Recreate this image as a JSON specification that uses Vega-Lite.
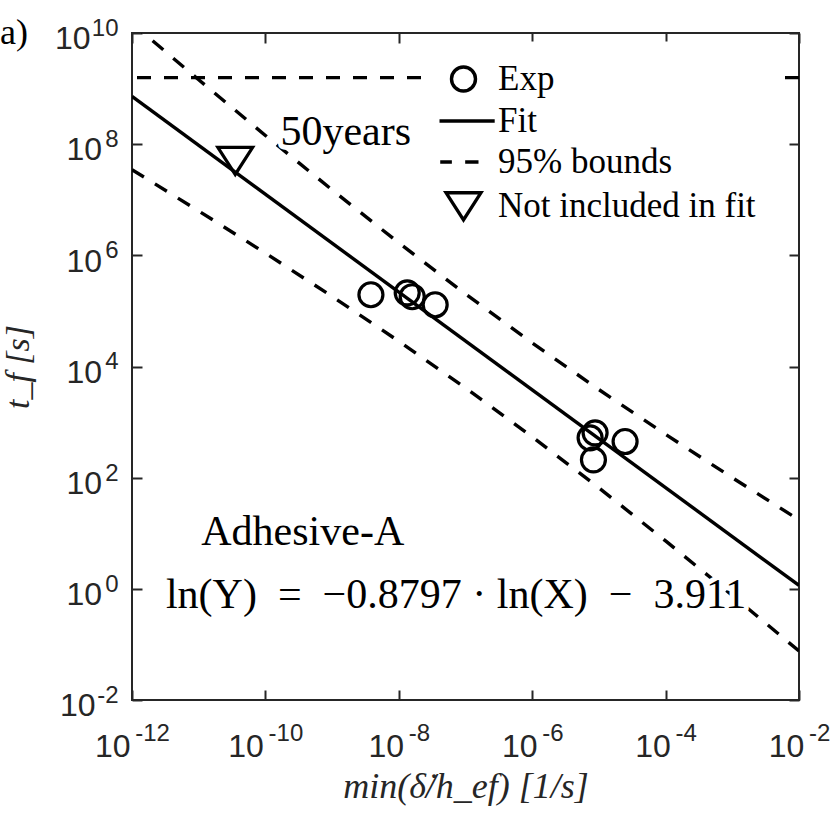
{
  "$schema": "https://vega.github.io/schema/vega-lite/v6.json",
  "width": 667,
  "height": 667,
  "autosize": {"type": "none"},
  "padding": {"left": 132, "top": 33, "right": 31, "bottom": 114},
  "background": "white",
  "config": {"view": {"stroke": "#262626", "strokeWidth": 2}},
  "title": {
    "text": "a)",
    "anchor": "start",
    "frame": "group",
    "orient": "top",
    "offset": 0,
    "dx": -132,
    "dy": 64,
    "baseline": "alphabetic",
    "font": "Liberation Serif",
    "fontSize": 36,
    "fontWeight": "normal",
    "color": "black"
  },
  "layer": [
    {
      "data": {"values": [{"time": 1576800000}]},
      "mark": {"type": "rule", "strokeDash": [14, 13], "strokeWidth": 3.4, "color": "black"},
      "encoding": {
        "y": {"field": "time", "type": "quantitative", "scale": {"type": "log", "domain": [0.01, 1e10]}, "axis": null}
      }
    },
    {
      "data": {"values": [
        {"bound": "upper", "rate": 1e-12, "time": 1.493e10},
        {"bound": "upper", "rate": 1e-11, "time": 1.439e9},
        {"bound": "upper", "rate": 1e-10, "time": 1.435e8},
        {"bound": "upper", "rate": 1e-9, "time": 1.503e7},
        {"bound": "upper", "rate": 1e-8, "time": 1.675e6},
        {"bound": "upper", "rate": 1e-7, "time": 2.018e5},
        {"bound": "upper", "rate": 1e-6, "time": 2.661e4},
        {"bound": "upper", "rate": 1e-5, "time": 3846},
        {"bound": "upper", "rate": 1e-4, "time": 599.8},
        {"bound": "upper", "rate": 1e-3, "time": 99.8},
        {"bound": "upper", "rate": 1e-2, "time": 17.42},
        {"bound": "lower", "rate": 1e-12, "time": 3.483e7},
        {"bound": "lower", "rate": 1e-11, "time": 6.281e6},
        {"bound": "lower", "rate": 1e-10, "time": 1.096e6},
        {"bound": "lower", "rate": 1e-9, "time": 1.824e5},
        {"bound": "lower", "rate": 1e-8, "time": 2.851e4},
        {"bound": "lower", "rate": 1e-7, "time": 4111},
        {"bound": "lower", "rate": 1e-6, "time": 542.0},
        {"bound": "lower", "rate": 1e-5, "time": 65.5},
        {"bound": "lower", "rate": 1e-4, "time": 7.28},
        {"bound": "lower", "rate": 1e-3, "time": 0.762},
        {"bound": "lower", "rate": 1e-2, "time": 0.076}
      ]},
      "mark": {"type": "line", "strokeDash": [14, 13], "strokeWidth": 3.4, "color": "black", "clip": true},
      "encoding": {
        "x": {
          "field": "rate", "type": "quantitative",
          "scale": {"type": "log", "domain": [1e-12, 0.01]},
          "axis": {"orient": "top", "values": [1e-12, 1e-10, 1e-8, 1e-6, 1e-4, 1e-2], "labels": false, "domain": false, "grid": false, "title": null, "tickSize": -10, "tickWidth": 2, "tickColor": "#262626"}
        },
        "y": {
          "field": "time", "type": "quantitative",
          "scale": {"type": "log", "domain": [0.01, 1e10]},
          "axis": {"orient": "right", "values": [0.01, 1, 100, 1e4, 1e6, 1e8, 1e10], "labels": false, "domain": false, "grid": false, "title": null, "tickSize": -10, "tickWidth": 2, "tickColor": "#262626"}
        },
        "detail": {"field": "bound"}
      }
    },
    {
      "data": {"values": [
        {"rate": 1e-12, "time": 7.206e8},
        {"rate": 1e-2, "time": 1.150}
      ]},
      "mark": {"type": "line", "strokeWidth": 3.4, "color": "black", "clip": true},
      "encoding": {
        "x": {
          "field": "rate", "type": "quantitative",
          "scale": {"type": "log", "domain": [1e-12, 0.01]},
          "axis": {
            "orient": "bottom", "values": [1e-12, 1e-10, 1e-8, 1e-6, 1e-4, 1e-2],
            "labelExpr": "toString(round(log(datum.value) / LN10))",
            "ticks": false, "domain": false, "grid": false, "title": null,
            "labelFont": "Liberation Sans", "labelFontSize": 24, "labelColor": "#262626",
            "labelAlign": "left", "labelBaseline": "alphabetic", "labelPadding": 40,
            "labelOffset": {"condition": {"test": "datum.value < 1e-9", "value": 2.7}, "value": 9.5},
            "labelFlush": false, "labelOverlap": false
          }
        },
        "y": {
          "field": "time", "type": "quantitative",
          "scale": {"type": "log", "domain": [0.01, 1e10]},
          "axis": {
            "orient": "left", "values": [0.01, 1, 100, 1e4, 1e6, 1e8, 1e10],
            "labelExpr": "toString(round(log(datum.value) / LN10))",
            "ticks": false, "domain": false, "grid": false, "title": null,
            "labelFont": "Liberation Sans", "labelFontSize": 24, "labelColor": "#262626",
            "labelAlign": "right", "labelBaseline": "alphabetic", "labelPadding": 14,
            "labelOffset": 2.4,
            "labelFlush": false, "labelOverlap": false
          }
        }
      }
    },
    {
      "data": {"values": [
        {"rate": 3.82e-9, "time": 1.954e5, "series": "Exp"},
        {"rate": 1.337e-8, "time": 2.12e5, "series": "Exp"},
        {"rate": 1.589e-8, "time": 1.80e5, "series": "Exp"},
        {"rate": 3.51e-8, "time": 1.29e5, "series": "Exp"},
        {"rate": 8.77e-6, "time": 640, "series": "Exp"},
        {"rate": 7.38e-6, "time": 520, "series": "Exp"},
        {"rate": 8.28e-6, "time": 209, "series": "Exp"},
        {"rate": 2.47e-5, "time": 447, "series": "Exp"},
        {"rate": 3.53e-11, "time": 5.05e7, "series": "Not included in fit"}
      ]},
      "mark": {"type": "point", "filled": false, "size": 576, "strokeWidth": 3.2, "color": "black", "opacity": 1},
      "encoding": {
        "x": {
          "field": "rate", "type": "quantitative",
          "scale": {"type": "log", "domain": [1e-12, 0.01]},
          "axis": {
            "orient": "bottom", "values": [1e-12, 1e-10, 1e-8, 1e-6, 1e-4, 1e-2],
            "labelExpr": "'10'",
            "domain": false, "grid": false,
            "tickSize": -10, "tickWidth": 2, "tickColor": "#262626",
            "labelFont": "Liberation Sans", "labelFontSize": 32, "labelColor": "#262626",
            "labelAlign": "right", "labelBaseline": "alphabetic", "labelPadding": 66,
            "labelOffset": {"condition": {"test": "datum.value < 1e-9", "value": -2}, "value": 4.8},
            "labelFlush": false, "labelOverlap": false,
            "title": "min(δ̇/h_ef) [1/s]",
            "titleFont": "Liberation Serif", "titleFontSize": 36, "titleFontStyle": "italic", "titleFontWeight": "normal",
            "titleColor": "#262626", "titleX": 333.5, "titleY": 97, "titleAlign": "center", "titleBaseline": "alphabetic"
          }
        },
        "y": {
          "field": "time", "type": "quantitative",
          "scale": {"type": "log", "domain": [0.01, 1e10]},
          "axis": {
            "orient": "left", "values": [0.01, 1, 100, 1e4, 1e6, 1e8, 1e10],
            "labelExpr": "'10'",
            "domain": false, "grid": false,
            "tickSize": -10, "tickWidth": 2, "tickColor": "#262626",
            "labelFont": "Liberation Sans", "labelFontSize": 32, "labelColor": "#262626",
            "labelAlign": "right", "labelBaseline": "alphabetic", "labelOffset": 15.7,
            "labelPadding": {"condition": [{"test": "datum.value > 1e9", "value": 52}, {"test": "datum.value < 0.1", "value": 47}], "value": 40.5},
            "labelFlush": false, "labelOverlap": false,
            "title": "t_f [s]",
            "titleFont": "Liberation Serif", "titleFontSize": 34, "titleFontStyle": "italic", "titleFontWeight": "normal",
            "titleColor": "#262626", "titleX": -104, "titleY": 333.5, "titleAngle": 270, "titleAlign": "center", "titleBaseline": "alphabetic"
          }
        },
        "shape": {
          "field": "series", "type": "nominal",
          "scale": {
            "domain": ["Exp", "Fit", "95% bounds", "Not included in fit"],
            "range": ["circle", "M-2.0,0H2.6", "M-1.94,0H-0.97M0.14,0H1.25", "M-1.45,-1.1L1.45,-1.1L0,1.15Z"]
          },
          "legend": {
            "title": null,
            "orient": "none",
            "legendX": 294,
            "legendY": 8.5,
            "fillColor": "white",
            "padding": 20,
            "labelFont": "Liberation Serif",
            "labelFontSize": 35,
            "labelColor": "black",
            "labelOffset": 17,
            "labelLimit": 0,
            "symbolSize": 576,
            "symbolStrokeWidth": 3.4,
            "symbolStrokeColor": "black",
            "symbolFillColor": "transparent",
            "rowPadding": 5,
            "encode": {
              "labels": {
                "update": {
                  "font": {"signal": "datum.value === '95% bounds' ? 'Liberation Sans' : 'Liberation Serif'"},
                  "fontSize": {"signal": "datum.value === '95% bounds' ? 32 : 35"}
                }
              }
            }
          }
        }
      }
    },
    {
      "data": {"values": [
        {"rate": 3.63e-10, "time": 6.17, "label": "Adhesive-A"},
        {"rate": 7.24e-8, "time": 0.448, "label": "ln(Y)\u2002=\u2002−0.8797 · ln(X)\u2002−\u20023.911"},
        {"rate": 1.6e-9, "time": 9.8e7, "label": "50years"}
      ]},
      "encoding": {
        "x": {"field": "rate", "type": "quantitative", "scale": {"type": "log", "domain": [1e-12, 0.01]}, "axis": null},
        "y": {"field": "time", "type": "quantitative", "scale": {"type": "log", "domain": [0.01, 1e10]}, "axis": null},
        "text": {"field": "label"}
      },
      "layer": [
        {"mark": {"type": "text", "font": "Liberation Serif", "fontSize": 42, "align": "center", "baseline": "alphabetic", "fill": "white", "stroke": "white", "strokeWidth": 10, "strokeJoin": "round"}},
        {"mark": {"type": "text", "font": "Liberation Serif", "fontSize": 42, "align": "center", "baseline": "alphabetic", "color": "black"}}
      ]
    }
  ],
  "resolve": {"axis": {"x": "independent", "y": "independent"}}
}
